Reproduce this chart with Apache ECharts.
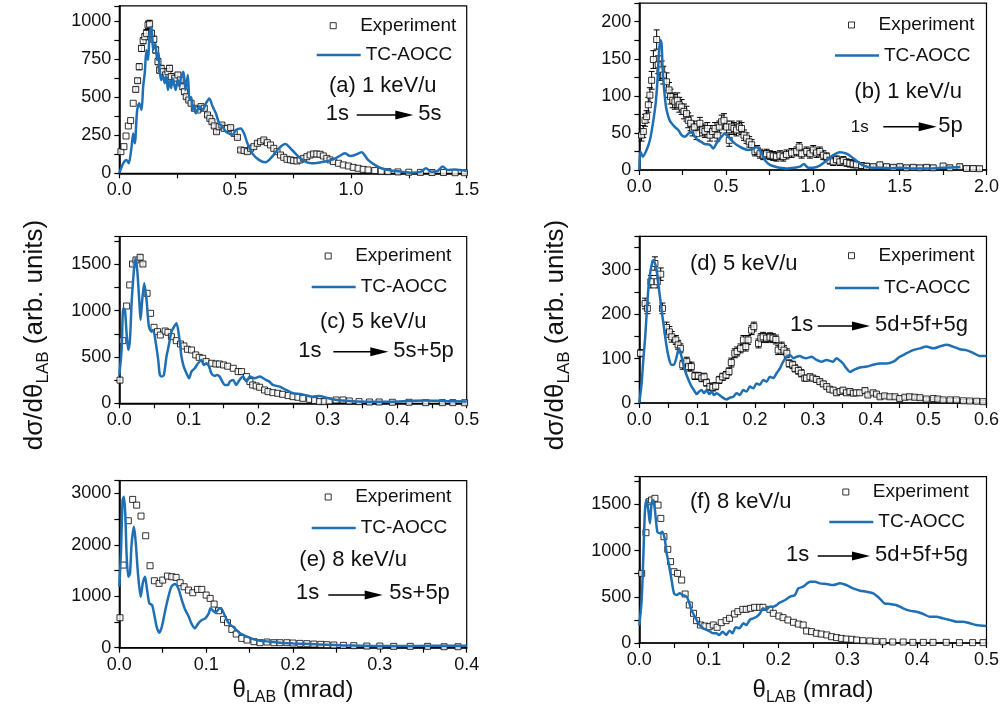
<!DOCTYPE html>
<html><head><meta charset="utf-8">
<script src="https://cdn.jsdelivr.net/npm/echarts@6/dist/echarts.min.js"></script>
<style>html,body{margin:0;padding:0;background:#fff}#c{width:1002px;height:722px}</style>
</head><body><div id="c"></div>
<script>
// ---------- DATA ----------
// experiment: [theta, dsigma, error]
const expA = [[0.007,142,0],[0.02,175,0],[0.029,245,0],[0.039,311,0],[0.049,346,0],[0.06,460,0],[0.071,551,15],[0.079,608,15],[0.086,700,20],[0.096,820,20],[0.103,871,20],[0.11,897,20],[0.117,919,25],[0.124,974,25],[0.131,980,25],[0.139,919,20],[0.149,880,20],[0.157,810,20],[0.167,733,20],[0.174,678,20],[0.181,689,20],[0.189,667,20],[0.2,646,20],[0.21,667,20],[0.217,689,20],[0.224,635,20],[0.239,624,15],[0.253,646,15],[0.263,613,15],[0.274,569,15],[0.281,536,15],[0.289,503,10],[0.3,481,10],[0.31,460,10],[0.324,427,10],[0.339,416,10],[0.353,438,10],[0.367,427,10],[0.381,383,10],[0.391,361,10],[0.4,339,10],[0.41,311,10],[0.42,273,10],[0.431,306,10],[0.443,317,10],[0.453,295,10],[0.467,295,10],[0.481,300,10],[0.496,262,10],[0.51,236,10],[0.524,153,10],[0.539,149,10],[0.553,142,10],[0.567,164,10],[0.581,175,10],[0.596,197,10],[0.61,208,10],[0.624,219,10],[0.639,201,0],[0.653,186,0],[0.667,164,0],[0.681,142,0],[0.696,120,0],[0.71,105,0],[0.724,92,0],[0.739,88,0],[0.753,83,0],[0.767,81,0],[0.781,88,0],[0.796,98,0],[0.81,109,0],[0.824,120,0],[0.839,127,0],[0.853,127,0],[0.867,125,0],[0.881,114,0],[0.896,98,0],[0.91,88,0],[0.924,77,0],[0.946,66,0],[0.967,55,0],[0.989,48,0],[1.01,39,0],[1.031,33,0],[1.053,26,0],[1.074,22,0],[1.103,18,0],[1.131,13,0],[1.16,11,0],[1.203,9,0],[1.25,7,0],[1.3,6,0],[1.35,5,0],[1.4,5,0],[1.45,4,0],[1.49,4,0]];
const thA = [[0,0],[0.017,66],[0.031,88],[0.041,66],[0.053,175],[0.06,262],[0.067,197],[0.077,415],[0.086,460],[0.096,415],[0.103,569],[0.11,660],[0.117,810],[0.124,744],[0.131,919],[0.139,963],[0.146,810],[0.156,853],[0.163,744],[0.17,790],[0.174,678],[0.181,613],[0.189,640],[0.196,591],[0.203,635],[0.21,547],[0.217,613],[0.224,560],[0.231,624],[0.243,547],[0.253,613],[0.26,570],[0.267,635],[0.277,667],[0.286,547],[0.296,646],[0.303,481],[0.31,500],[0.317,416],[0.324,440],[0.331,394],[0.346,438],[0.36,416],[0.374,460],[0.389,492],[0.403,438],[0.417,394],[0.431,328],[0.446,306],[0.46,273],[0.474,262],[0.489,252],[0.503,284],[0.524,295],[0.539,262],[0.553,197],[0.574,131],[0.603,88],[0.631,72],[0.66,109],[0.689,164],[0.717,192],[0.746,153],[0.774,109],[0.803,77],[0.831,66],[0.86,70],[0.889,77],[0.917,88],[0.946,109],[0.974,131],[0.996,114],[1.017,120],[1.046,138],[1.074,88],[1.103,55],[1.131,33],[1.174,18],[1.217,11],[1.26,4],[1.303,11],[1.324,33],[1.346,11],[1.374,15],[1.396,44],[1.417,22],[1.45,25],[1.5,15]];

const expB = [[0.013,47,8],[0.023,52,8],[0.033,67,8],[0.042,72,8],[0.052,88,10],[0.061,101,10],[0.071,121,12],[0.081,149,12],[0.1,176,13],[0.109,142,12],[0.119,133,12],[0.129,135,12],[0.138,128,12],[0.157,119,12],[0.171,108,10],[0.18,99,10],[0.192,94,10],[0.205,92,10],[0.219,94,10],[0.23,88,10],[0.244,85,10],[0.257,79,10],[0.272,76,10],[0.282,67,10],[0.296,63,10],[0.307,54,8],[0.317,58,8],[0.33,49,8],[0.349,63,8],[0.365,54,8],[0.378,52,8],[0.392,56,8],[0.407,47,8],[0.422,52,8],[0.436,56,8],[0.449,47,8],[0.461,58,8],[0.474,65,9],[0.488,67,9],[0.503,58,8],[0.518,40,8],[0.532,58,8],[0.545,56,8],[0.56,54,8],[0.576,58,8],[0.589,56,8],[0.603,47,7],[0.618,43,7],[0.633,38,7],[0.647,34,7],[0.666,25,6],[0.679,27,6],[0.695,22,6],[0.714,20,6],[0.733,22,6],[0.752,20,6],[0.772,19,6],[0.79,18,6],[0.81,20,6],[0.829,18,6],[0.848,21,6],[0.877,23,6],[0.906,25,6],[0.921,31,6],[0.935,22,6],[0.964,25,6],[0.983,22,6],[1.002,27,6],[1.021,23,6],[1.04,25,6],[1.06,20,6],[1.079,18,5],[1.098,13,5],[1.117,11,5],[1.136,14,5],[1.155,11,5],[1.175,13,5],[1.194,10,5],[1.213,9,5],[1.232,8,5],[1.251,7,4],[1.28,6,4],[1.309,5,4],[1.347,4.5,3],[1.386,7,3],[1.424,4.5,3],[1.463,3.6,3],[1.501,4.5,3],[1.539,3,3],[1.578,3.6,3],[1.616,3,3],[1.655,3.6,3],[1.693,3,3],[1.75,5.4,3],[1.789,3,3],[1.846,4.5,3],[1.885,2,3],[1.923,2,3],[1.96,1.8,3]];
const thB = [[0,0],[0.006,25],[0.015,20],[0.02,18],[0.042,27],[0.061,40],[0.081,67],[0.096,94],[0.106,126],[0.115,164],[0.123,175],[0.129,168],[0.134,139],[0.142,112],[0.154,85],[0.167,72],[0.177,66],[0.186,63],[0.205,58],[0.225,54],[0.244,47],[0.263,45],[0.282,49],[0.301,52],[0.32,45],[0.338,40],[0.357,38],[0.376,35],[0.407,34],[0.426,29],[0.445,36],[0.474,45],[0.493,49],[0.512,45],[0.532,40],[0.56,34],[0.599,29],[0.628,27],[0.656,29],[0.676,31],[0.699,25],[0.724,13],[0.753,7],[0.79,4],[0.81,3],[0.85,2],[0.89,3],[0.925,4.5],[0.948,8],[0.973,3],[1.0,3],[1.04,6],[1.08,13],[1.117,20],[1.155,24],[1.194,22],[1.232,16],[1.27,9],[1.309,4.5],[1.35,3],[1.4,3],[1.45,2.5],[1.5,3],[1.6,2],[1.7,2.5],[1.8,3.5],[1.85,4]];

const expC = [[0.001,250,0],[0.005,676,0],[0.0105,1050,0],[0.015,1277,0],[0.019,1503,20],[0.024,1547,20],[0.03,1576,25],[0.034,1503,20],[0.04,1187,0],[0.045,971,0],[0.05,820,0],[0.055,773,0],[0.059,737,0],[0.066,780,0],[0.07,766,0],[0.075,719,0],[0.082,676,0],[0.088,640,0],[0.093,619,0],[0.098,583,0],[0.104,575,0],[0.11,522,0],[0.115,496,0],[0.12,486,0],[0.125,450,0],[0.133,432,0],[0.139,424,0],[0.144,424,0],[0.15,414,0],[0.156,400,0],[0.164,378,0],[0.171,342,0],[0.176,342,0],[0.183,288,0],[0.188,234,0],[0.192,198,0],[0.197,187,0],[0.202,173,0],[0.209,144,0],[0.214,126,0],[0.221,115,0],[0.228,108,0],[0.235,97,0],[0.243,83,0],[0.25,72,0],[0.257,65,0],[0.264,54,0],[0.274,43,0],[0.281,29,0],[0.288,18,0],[0.295,18,0],[0.302,25,0],[0.312,36,0],[0.322,36,0],[0.331,25,0],[0.345,18,0],[0.36,14,0],[0.374,14,0],[0.393,11,0],[0.417,11,0],[0.441,7,0],[0.465,7,0],[0.48,7,0],[0.497,6,0]];
const thC = [[0,300],[0.0033,575],[0.0057,1025],[0.0081,1007],[0.0105,755],[0.0129,575],[0.0153,683],[0.0177,1079],[0.0211,1439],[0.0234,1565],[0.0258,1439],[0.0287,1115],[0.0306,899],[0.033,1115],[0.0359,1295],[0.0392,1115],[0.0426,827],[0.0464,773],[0.0488,791],[0.0526,647],[0.056,468],[0.0584,306],[0.0608,288],[0.0641,306],[0.0679,504],[0.0718,647],[0.0751,773],[0.0789,827],[0.0823,863],[0.0861,719],[0.0895,504],[0.0928,396],[0.0967,324],[0.1005,270],[0.1038,342],[0.1086,378],[0.1134,432],[0.1182,468],[0.1215,414],[0.1254,432],[0.1292,396],[0.1325,324],[0.1373,295],[0.1407,306],[0.1445,288],[0.1483,234],[0.1517,198],[0.1565,198],[0.159,234],[0.164,252],[0.168,198],[0.173,252],[0.178,288],[0.183,234],[0.188,288],[0.195,270],[0.202,288],[0.211,252],[0.216,234],[0.221,198],[0.231,180],[0.24,144],[0.25,108],[0.26,101],[0.269,86],[0.278,72],[0.288,79],[0.298,61],[0.307,43],[0.321,29],[0.336,22],[0.355,18],[0.374,18],[0.393,18],[0.417,25],[0.441,29],[0.465,25],[0.5,20]];

const expD = [[0.002,112,8],[0.01,224,12],[0.014,213,12],[0.02,273,14],[0.027,314,15],[0.031,273,14],[0.037,290,14],[0.04,213,12],[0.047,170,12],[0.052,160,12],[0.056,149,12],[0.063,142,10],[0.067,131,10],[0.071,123,10],[0.075,86,10],[0.082,93,10],[0.085,82,10],[0.09,82,10],[0.096,61,8],[0.102,61,8],[0.108,56,8],[0.112,59,8],[0.116,46,8],[0.122,37,8],[0.127,35,8],[0.132,38,8],[0.138,52,8],[0.144,59,8],[0.15,63,8],[0.155,71,8],[0.159,91,10],[0.165,112,10],[0.169,116,10],[0.175,123,10],[0.18,142,10],[0.184,127,10],[0.188,142,10],[0.194,164,10],[0.198,172,10],[0.206,134,10],[0.21,146,10],[0.214,149,10],[0.22,146,10],[0.226,148,10],[0.231,146,10],[0.236,143,10],[0.24,119,10],[0.246,127,10],[0.25,119,10],[0.255,112,10],[0.259,89,8],[0.265,86,8],[0.269,78,8],[0.275,73,8],[0.28,67,8],[0.286,56,6],[0.289,56,6],[0.295,59,6],[0.3,56,6],[0.306,53,6],[0.312,48,6],[0.318,43,6],[0.324,37,5],[0.329,31,5],[0.335,29,5],[0.341,23,5],[0.347,26,5],[0.352,29,5],[0.358,23,5],[0.364,26,5],[0.37,22,5],[0.375,23,5],[0.381,23,5],[0.39,28,5],[0.395,18,4],[0.404,23,4],[0.41,20,4],[0.416,14,4],[0.424,16,4],[0.433,14,4],[0.442,14,4],[0.45,10,4],[0.459,13,4],[0.467,14,4],[0.476,13,4],[0.485,12,4],[0.496,9,3],[0.508,10,3],[0.516,9,3],[0.525,7,3],[0.537,7,3],[0.548,7,3],[0.56,5,3],[0.571,4.5,3],[0.583,4,3],[0.594,3,3]];
const thD = [[0,0],[0.004,44],[0.0069,97],[0.0098,142],[0.0127,200],[0.0155,254],[0.0196,299],[0.0242,322],[0.0288,307],[0.0328,269],[0.0386,209],[0.0432,164],[0.0472,127],[0.0518,97],[0.0558,86],[0.0599,86],[0.0645,104],[0.0685,123],[0.0731,104],[0.0771,82],[0.0817,63],[0.0864,48],[0.0904,37],[0.0944,29],[0.099,20],[0.1036,26],[0.1077,29],[0.1117,22],[0.1163,29],[0.1209,20],[0.1249,26],[0.129,18],[0.1336,22],[0.1422,14],[0.1508,8],[0.1566,12],[0.1623,14],[0.1681,22],[0.1739,18],[0.1796,29],[0.1854,26],[0.1911,37],[0.1969,33],[0.2026,44],[0.2084,41],[0.2142,52],[0.2199,48],[0.2257,59],[0.2314,56],[0.2372,67],[0.243,78],[0.2487,93],[0.2545,104],[0.2602,108],[0.266,101],[0.2717,104],[0.2775,106],[0.2832,102],[0.289,101],[0.2976,104],[0.3063,97],[0.3149,93],[0.3235,97],[0.335,93],[0.341,101],[0.347,95],[0.352,89],[0.358,78],[0.364,70],[0.37,74],[0.381,80],[0.393,82],[0.404,86],[0.416,89],[0.427,89],[0.439,93],[0.45,104],[0.462,112],[0.473,119],[0.485,123],[0.496,127],[0.508,123],[0.519,127],[0.531,131],[0.542,127],[0.554,121],[0.565,119],[0.577,113],[0.588,106],[0.6,106]];

const expE = [[0.0008,583,0],[0.0046,1607,0],[0.0104,2469,0],[0.0154,2884,0],[0.02,2773,0],[0.025,2560,0],[0.0304,2177,0],[0.0354,1594,0],[0.0404,1302,0],[0.0458,1251,0],[0.05,1315,0],[0.0554,1393,0],[0.0604,1380,0],[0.0654,1367,0],[0.07,1264,0],[0.0746,1186,0],[0.0796,1121,0],[0.0846,1069,0],[0.09,1134,0],[0.095,1134,0],[0.1,1024,0],[0.1046,959,0],[0.1092,849,0],[0.1142,719,0],[0.12,551,0],[0.1246,486,0],[0.1296,356,0],[0.1346,266,0],[0.141,181,0],[0.147,149,0],[0.155,117,0],[0.162,97,0],[0.17,110,0],[0.178,97,0],[0.185,97,0],[0.193,97,0],[0.2,91,0],[0.208,84,0],[0.216,78,0],[0.224,71,0],[0.232,65,0],[0.239,58,0],[0.247,52,0],[0.258,45,0],[0.27,39,0],[0.285,32,0],[0.3,32,0],[0.316,26,0],[0.335,26,0],[0.355,26,0],[0.374,19,0],[0.39,19,0]];
const thE = [[0,1186],[0.002,1899],[0.0038,2870],[0.0054,2935],[0.007,2547],[0.0085,1769],[0.0104,1380],[0.0123,1445],[0.0142,2028],[0.0169,2352],[0.019,2028],[0.0215,1445],[0.0246,991],[0.027,1251],[0.0296,1380],[0.032,1121],[0.0346,862],[0.0377,829],[0.04,667],[0.043,408],[0.046,292],[0.049,408],[0.053,732],[0.0565,991],[0.06,1186],[0.064,1238],[0.068,1153],[0.072,927],[0.076,732],[0.08,603],[0.083,473],[0.087,376],[0.091,473],[0.095,538],[0.099,570],[0.103,667],[0.105,765],[0.108,719],[0.111,680],[0.114,745],[0.117,765],[0.12,680],[0.124,538],[0.128,441],[0.131,408],[0.135,343],[0.139,279],[0.147,214],[0.155,162],[0.162,136],[0.174,117],[0.185,97],[0.2,84],[0.22,71],[0.239,58],[0.258,45],[0.278,39],[0.297,32],[0.316,32],[0.335,32],[0.355,39],[0.382,39],[0.4,40]];

const expF = [[0.0034,753,0],[0.0096,1193,0],[0.014,1528,0],[0.0177,1547,0],[0.0225,1565,0],[0.027,1492,0],[0.031,1348,0],[0.0355,1150,0],[0.041,1013,0],[0.045,880,0],[0.05,771,0],[0.055,753,0],[0.061,681,0],[0.066,530,0],[0.072,411,0],[0.078,321,0],[0.0825,242,0],[0.088,195,0],[0.0945,184,0],[0.1007,177,0],[0.1065,195,0],[0.112,170,0],[0.118,220,0],[0.125,242,0],[0.13,267,0],[0.137,314,0],[0.142,339,0],[0.149,364,0],[0.154,364,0],[0.16,375,0],[0.166,386,0],[0.173,386,0],[0.178,386,0],[0.188,364,0],[0.193,321,0],[0.201,292,0],[0.207,274,0],[0.214,249,0],[0.222,224,0],[0.229,205,0],[0.236,195,0],[0.241,130,0],[0.248,123,0],[0.255,105,0],[0.262,97,0],[0.27,87,0],[0.277,68,0],[0.284,58,0],[0.291,50,0],[0.298,43,0],[0.306,40,0],[0.313,32,0],[0.322,25,0],[0.332,22,0],[0.341,18,0],[0.351,14,0],[0.365,11,0],[0.38,11,0],[0.394,7,0],[0.409,7,0],[0.423,7,0],[0.442,7,0],[0.461,4,0],[0.48,4,0],[0.495,4,0]];
const thF = [[0,190],[0.0034,465],[0.0058,934],[0.0082,1438],[0.0106,1547],[0.013,1438],[0.0153,1294],[0.0177,1510],[0.02,1547],[0.0225,1438],[0.026,1204],[0.0297,1186],[0.033,1204],[0.0365,1132],[0.039,988],[0.0427,844],[0.0465,681],[0.05,537],[0.0537,519],[0.058,537],[0.063,519],[0.068,501],[0.0705,465],[0.073,411],[0.075,357],[0.0787,303],[0.0825,249],[0.087,195],[0.092,159],[0.097,141],[0.102,123],[0.1065,105],[0.111,105],[0.115,87],[0.12,123],[0.125,87],[0.13,133],[0.134,105],[0.139,170],[0.144,159],[0.15,213],[0.154,195],[0.159,249],[0.164,267],[0.169,285],[0.174,321],[0.178,375],[0.183,357],[0.188,393],[0.193,393],[0.198,411],[0.202,436],[0.21,465],[0.217,501],[0.224,519],[0.229,591],[0.236,609],[0.246,663],[0.253,663],[0.26,645],[0.27,638],[0.279,627],[0.289,645],[0.298,627],[0.308,591],[0.318,566],[0.327,555],[0.337,537],[0.346,483],[0.353,429],[0.361,422],[0.37,411],[0.38,375],[0.389,350],[0.399,339],[0.409,314],[0.418,285],[0.428,285],[0.437,267],[0.447,249],[0.457,231],[0.466,231],[0.476,213],[0.485,195],[0.5,184]];

// axis ranges / tick label steps
const xMaxes = [1.5, 2.0, 0.5, 0.6, 0.4, 0.5];
const xTickSteps = [0.25, 0.25, 0.05, 0.05, 0.05, 0.05];
const xLabelSteps = [0.5, 0.5, 0.1, 0.1, 0.1, 0.1];
const yMaxes = [1100, 225, 1800, 375, 3250, 1800];
const yTickSteps = [125, 25, 250, 50, 500, 250];
const yLabelSteps = [250, 50, 500, 100, 1000, 500];
const panelLabels = ['(a) 1 keV/u', '(b) 1 keV/u', '(c) 5 keV/u', '(d) 5 keV/u', '(e) 8 keV/u', '(f) 8 keV/u'];
const finalStates = ['5s', '5p', '5s+5p', '5d+5f+5g', '5s+5p', '5d+5f+5g'];
const expSets = [expA, expB, expC, expD, expE, expF];
const thSets = [thA, thB, thC, thD, thE, thF];

// ---------- LAYOUT ----------
const FONT = '"Liberation Sans", Arial, Helvetica, sans-serif';
const BLUE = '#1f6fb5';
const layout = [
  {left:119.3, top:5.8,   width:347.4, height:167.5, leg:[316.7,16.2,45.5],  lab:[329,85.5,22], s1:[325.7,114,22], arr:[356.7,413.3,115], s2:[418.3,114,22]},
  {left:639.3, top:3.2,   width:347.4, height:166.8, leg:[835,15.5,46],      lab:[854.3,92,22], s1:[850.7,127.5,17], arr:[883.3,936.7,126.7], s2:[938.3,126,22]},
  {left:119.3, top:236.5, width:347.4, height:166.8, leg:[311.7,246.5,277.5],lab:[320,322,22], s1:[298.3,351,22], arr:[333.3,388.3,351.7], s2:[393.3,351,22]},
  {left:639.3, top:236.4, width:347.4, height:166.6, leg:[835,246.2,278.5],  lab:[690,264,22], s1:[790,324.5,22], arr:[817.7,870,326], s2:[875,325,22]},
  {left:119.3, top:480.6, width:347.4, height:167.1, leg:[311.7,487.5,518.5],lab:[299.3,560,22], s1:[296,592.5,22], arr:[328.3,382.7,595], s2:[389.3,593,22]},
  {left:639.3, top:476.6, width:347.4, height:166.4, leg:[829.3,482.5,512.5],lab:[690,502,22], s1:[786,555,22], arr:[817.7,870,556], s2:[875,555,22]}
];

function isMult(v, step){ const r = v/step; return Math.abs(r - Math.round(r)) < 1e-6; }

const grid = [], xAxis = [], yAxis = [], series = [], legend = [], graphic = [];
layout.forEach((L, i) => {
  grid.push({left:L.left, top:L.top, width:L.width, height:L.height, show:true, borderColor:'#000', borderWidth:1.2, containLabel:false});
  const common = {
    gridIndex:i, type:'value', min:0,
    axisLine:{show:true, onZero:false, lineStyle:{color:'#000', width:1.6}},
    axisTick:{show:true, inside:false, length:5, lineStyle:{color:'#000', width:1.2}},
    splitLine:{show:false}
  };
  xAxis.push(Object.assign({}, common, {
    max:xMaxes[i], interval:xTickSteps[i],
    axisLabel:{fontSize:18, color:'#111', fontFamily:FONT, margin:8, showMinLabel:true, showMaxLabel:true,
      formatter:(v)=> isMult(v, xLabelSteps[i]) ? v.toFixed(1) : ''}
  }));
  yAxis.push(Object.assign({}, common, {
    max:yMaxes[i], interval:yTickSteps[i],
    axisLabel:{fontSize:18, color:'#111', fontFamily:FONT, margin:8, showMaxLabel:true,
      formatter:(v)=> (isMult(v, yLabelSteps[i]) && v < yMaxes[i] - 1e-9) ? String(Math.round(v)) : ''}
  }));
  const ex = expSets[i];
  series.push({
    type:'custom', name:'err'+i, xAxisIndex:i, yAxisIndex:i, z:2, silent:true,
    data: ex.filter(d => d[2] > 0),
    renderItem:(params, api) => {
      const x = api.value(0), y = api.value(1), e = api.value(2);
      const t = api.coord([x, y + e]), b = api.coord([x, y - e]);
      const st = {stroke:'#000', lineWidth:1};
      return {type:'group', children:[
        {type:'line', shape:{x1:t[0], y1:t[1], x2:b[0], y2:b[1]}, style:st},
        {type:'line', shape:{x1:t[0]-3, y1:t[1], x2:t[0]+3, y2:t[1]}, style:st},
        {type:'line', shape:{x1:b[0]-3, y1:b[1], x2:b[0]+3, y2:b[1]}, style:st}
      ]};
    }
  });
  series.push({
    type:'scatter', name:'Experiment', xAxisIndex:i, yAxisIndex:i, z:3,
    data: ex.map(d => [d[0], d[1]]),
    symbol:'rect', symbolSize:6,
    itemStyle:{color:'#fff', borderColor:'#000', borderWidth:1}
  });
  series.push({
    type:'line', name:'TC-AOCC', xAxisIndex:i, yAxisIndex:i, z:4,
    data: thSets[i], showSymbol:false, symbol:'none', smooth:0.25, clip:true,
    lineStyle:{color:BLUE, width:2.5}, itemStyle:{color:BLUE}
  });
  const legText = {fontSize:19, color:'#111', fontFamily:FONT};
  legend.push({
    left:L.leg[0] + 13, top:L.leg[1], orient:'vertical', padding:0,
    itemWidth:44, itemHeight:6, selectedMode:false, symbolKeepAspect:true,
    data:[{name:'Experiment', icon:'path://M0,0L10,0L10,10L0,10Z', itemStyle:{color:'#fff', borderColor:'#000', borderWidth:1}}],
    textStyle:legText
  });
  legend.push({
    left:L.leg[0], top:L.leg[2], orient:'vertical', padding:0,
    itemWidth:44, itemHeight:2.5, selectedMode:false,
    data:[{name:'TC-AOCC', icon:'rect', itemStyle:{color:BLUE, borderWidth:0}}],
    textStyle:legText
  });
  const txt = (p, s) => ({type:'text', x:p[0], y:p[1], silent:true,
    style:{text:s, fontSize:p[2], fontFamily:FONT, fill:'#111', align:'left', verticalAlign:'middle'}});
  graphic.push(txt(L.lab, panelLabels[i]));
  graphic.push(txt(L.s1, '1s'));
  graphic.push(txt(L.s2, finalStates[i]));
  const a = L.arr;
  graphic.push({type:'line', silent:true, shape:{x1:a[0], y1:a[2], x2:a[1]-10, y2:a[2]}, style:{stroke:'#000', lineWidth:1.6}});
  graphic.push({type:'polygon', silent:true, shape:{points:[[a[1], a[2]], [a[1]-18, a[2]-4.5], [a[1]-18, a[2]+4.5]]}, style:{fill:'#000'}});
});

// axis titles
const richY = {t:{fontSize:26, lineHeight:34, fontFamily:FONT, fill:'#111'}, s:{fontSize:17, lineHeight:34, verticalAlign:'bottom', fontFamily:FONT, fill:'#111'}};
const richX = {t:{fontSize:24, lineHeight:32, fontFamily:FONT, fill:'#111'}, s:{fontSize:16, lineHeight:32, verticalAlign:'bottom', fontFamily:FONT, fill:'#111'}};
const yTitle = '{t|dσ/dθ}{s|LAB}{t| (arb. units)}';
const xTitle = '{t|θ}{s|LAB}{t| (mrad)}';
[[35,335],[556,335]].forEach(p => graphic.push({type:'text', x:p[0], y:p[1], rotation:Math.PI/2, silent:true,
  style:{text:yTitle, rich:richY, fontSize:26, fontFamily:FONT, fill:'#111', align:'center', verticalAlign:'middle'}}));
[[293,690],[813,690]].forEach(p => graphic.push({type:'text', x:p[0], y:p[1], silent:true,
  style:{text:xTitle, rich:richX, fontSize:24, fontFamily:FONT, fill:'#111', align:'center', verticalAlign:'middle'}}));

const chart = echarts.init(document.getElementById('c'), null, {renderer:'canvas'});
chart.setOption({
  animation:false, backgroundColor:'#fff',
  textStyle:{fontFamily:FONT},
  grid, xAxis, yAxis, series, legend, graphic
});
</script></body></html>
